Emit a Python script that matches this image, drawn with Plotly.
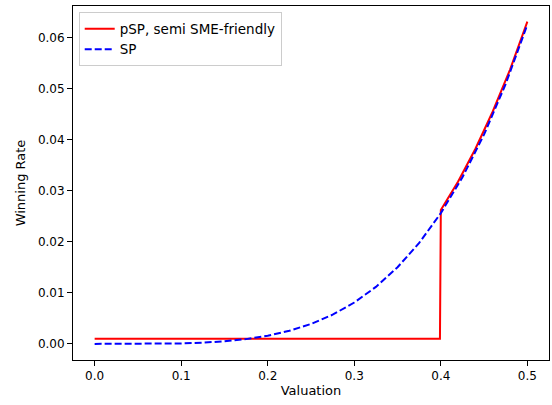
import plotly.graph_objects as go

# pSP, semi SME-friendly (step at 0.4)
psp_x = [0.0, 0.1, 0.2, 0.3, 0.399, 0.4, 0.42, 0.44, 0.46, 0.48, 0.5]
psp_y = [0.001, 0.001, 0.001, 0.001, 0.001, 0.0262, 0.0318, 0.0382, 0.0455, 0.0537, 0.0631]

# SP
sp_x = [0.0, 0.025, 0.05, 0.075, 0.1, 0.125, 0.15, 0.175, 0.2, 0.225, 0.25,
        0.275, 0.3, 0.325, 0.35, 0.375, 0.4, 0.425, 0.45, 0.475, 0.5]
sp_y = [0.0, 0.0000004, 0.0000063, 0.0000316, 0.0001, 0.000244, 0.000506, 0.000938,
        0.0016, 0.002563, 0.003906, 0.005719, 0.0081, 0.011157, 0.015006, 0.019775,
        0.0256, 0.032625, 0.041006, 0.050907, 0.0625]

x_ticks = [0.0, 0.1, 0.2, 0.3, 0.4, 0.5]
y_ticks = [0.0, 0.01, 0.02, 0.03, 0.04, 0.05, 0.06]

fig = go.Figure()
fig.add_trace(go.Scatter(x=psp_x, y=psp_y, mode="lines", name="pSP, semi SME-friendly",
                         line=dict(color="red", width=2)))
fig.add_trace(go.Scatter(x=sp_x, y=sp_y, mode="lines", name="SP",
                         line=dict(color="blue", width=2, dash="7px,3px")))

axis_common = dict(showline=True, linecolor="black", linewidth=1, mirror=True,
                   ticks="outside", ticklen=5, tickcolor="black", showgrid=False,
                   zeroline=False, tickfont=dict(family="DejaVu Sans", size=12, color="black"))

fig.update_xaxes(range=[-0.025, 0.525], tickvals=x_ticks, tickformat=".1f",
                 title=dict(text="Valuation", font=dict(family="DejaVu Sans", size=13, color="black"),
                            standoff=3),
                 **axis_common)
fig.update_yaxes(range=[-0.00315, 0.06615], tickvals=y_ticks, tickformat=".2f",
                 title=dict(text="Winning Rate", font=dict(family="DejaVu Sans", size=13, color="black"),
                            standoff=9),
                 **axis_common)

fig.update_layout(
    width=552, height=405,
    margin=dict(l=73, r=3, t=6, b=45),
    paper_bgcolor="white", plot_bgcolor="white",
    font=dict(family="DejaVu Sans", size=12, color="black"),
    legend=dict(x=0.012, y=0.982, xanchor="left", yanchor="top",
                bgcolor="white", bordercolor="#cccccc", borderwidth=1,
                font=dict(family="DejaVu Sans", size=13.5, color="black"),
                tracegroupgap=0, itemwidth=30),
    showlegend=True,
)

fig.write_html("out.html")
